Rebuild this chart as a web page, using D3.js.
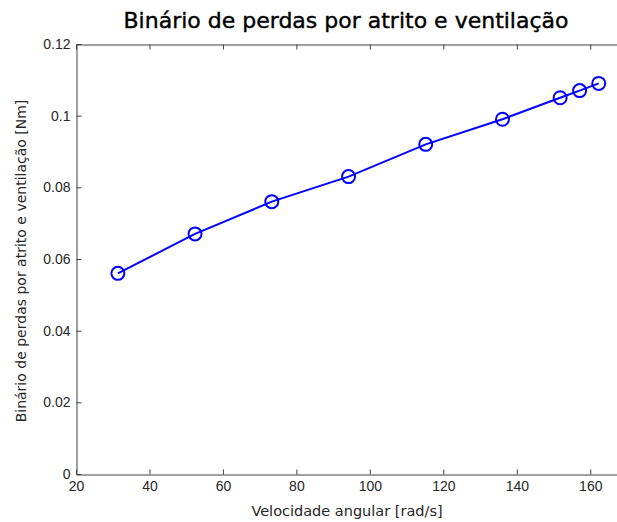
<!DOCTYPE html>
<html>
<head>
<meta charset="utf-8">
<script src="https://cdn.jsdelivr.net/npm/d3@7"></script>
<style>
  html, body { margin: 0; padding: 0; background: #fff; }
  svg { display: block; }
</style>
</head>
<body>
<svg id="chart" width="617" height="522"></svg>
<script>
const speeds = [31.4, 52.4, 73.3, 94.2, 115.2, 136.1, 151.8, 157.1, 162.3];
const torque = [0.056, 0.067, 0.076, 0.083, 0.092, 0.099, 0.105, 0.107, 0.109];
const xTicks = [20, 40, 60, 80, 100, 120, 140, 160];
const yTicks = [0, 0.02, 0.04, 0.06, 0.08, 0.1, 0.12];
const yTickLabels = ["0", "0.02", "0.04", "0.06", "0.08", "0.1", "0.12"];
const titleText = "Binário de perdas por atrito e ventilação";
const xLabelText = "Velocidade angular [rad/s]";
const yLabelText = "Binário de perdas por atrito e ventilação [Nm]";

const svg = d3.select("#chart");
const pLeft = 76, pRight = 627, pTop = 44, pBottom = 474;
const x = d3.scaleLinear().domain([20, 170]).range([pLeft, pRight]);
const y = d3.scaleLinear().domain([0, 0.12]).range([pBottom, pTop]);
const axisColor = "#404040";
const tickFont = "'Liberation Sans', Arial, sans-serif";
const labelFont = "'DejaVu Sans', sans-serif";

const xAxisB = d3.axisBottom(x).tickValues(xTicks).tickSize(-5).tickSizeOuter(0).tickPadding(7);
const gx = svg.append("g").attr("transform", `translate(0,${pBottom + 0.5})`).call(xAxisB);
const xAxisT = d3.axisTop(x).tickValues(xTicks).tickSize(-5).tickSizeOuter(0).tickFormat("");
const gxt = svg.append("g").attr("transform", `translate(0,${pTop + 0.5})`).call(xAxisT);

const yAxisL = d3.axisLeft(y).tickValues(yTicks).tickSize(-5).tickSizeOuter(0).tickPadding(6)
  .tickFormat((d, i) => yTickLabels[i]);
const gy = svg.append("g").attr("transform", `translate(${pLeft + 0.5},0)`).call(yAxisL);

[gx, gxt, gy].forEach(g => {
  g.select(".domain").attr("stroke", axisColor);
  g.selectAll(".tick line").attr("stroke", axisColor);
  g.selectAll(".tick text").attr("fill", "#262626").style("font-family", tickFont).style("font-size", "14px");
});

// line + markers
const line = d3.line().x((d, i) => x(speeds[i])).y(d => y(d));
svg.append("path").datum(torque).attr("d", line)
  .attr("fill", "none").attr("stroke", "#0000ff").attr("stroke-width", 2);
svg.append("g").selectAll("circle").data(torque).join("circle")
  .attr("cx", (d, i) => x(speeds[i])).attr("cy", d => y(d)).attr("r", 6.5)
  .attr("fill", "none").attr("stroke", "#0000ff").attr("stroke-width", 2);

// texts
svg.append("text").attr("x", 346).attr("y", 28).attr("text-anchor", "middle")
  .style("font-family", labelFont).style("font-size", "22px")
  .attr("fill", "#000").attr("stroke", "#000").attr("stroke-width", 0.4).text(titleText);
svg.append("text").attr("x", 347).attr("y", 516).attr("text-anchor", "middle")
  .style("font-family", labelFont).style("font-size", "14.5px").attr("fill", "#262626").text(xLabelText);
svg.append("text").attr("transform", "translate(26,261) rotate(-90)").attr("text-anchor", "middle")
  .style("font-family", labelFont).style("font-size", "14px").attr("fill", "#262626").text(yLabelText);
</script>
</body>
</html>
